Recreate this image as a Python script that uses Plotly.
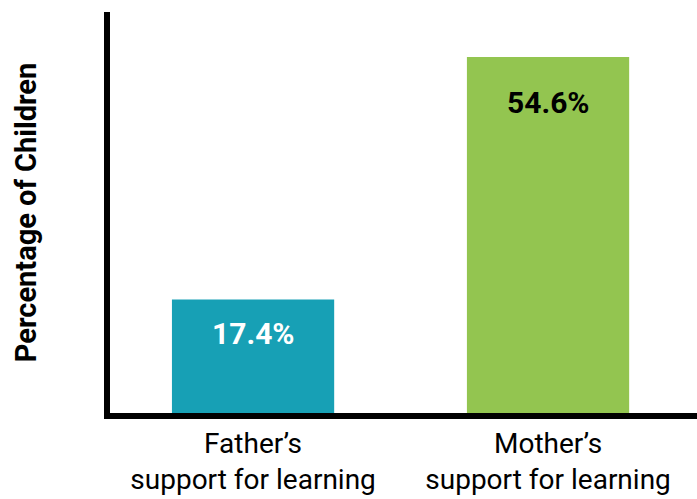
import plotly.graph_objects as go

# Share of children by parental source of learning support
categories = ["Father’s<br>support for learning", "Mother’s<br>support for learning"]
values = [17.4, 54.6]
value_labels = ["17.4%", "54.6%"]

bar_colors = ["#17a0b5", "#93c550"]
label_colors = ["white", "black"]
label_offsets = [-34, -46]  # pixels below the top of each bar

FONT = "Roboto, sans-serif"

fig = go.Figure(
    go.Bar(
        x=categories,
        y=values,
        width=0.55,
        marker=dict(color=bar_colors, line=dict(width=0)),
        hoverinfo="skip",
    )
)

for cat, val, txt, col, off in zip(categories, values, value_labels, label_colors, label_offsets):
    fig.add_annotation(
        x=cat, y=val, text=txt, showarrow=False, yshift=off,
        font=dict(family=FONT, size=30, color=col, weight="bold"),
    )

fig.update_layout(
    width=697, height=499,
    margin=dict(l=110, r=0, t=12, b=86),
    paper_bgcolor="white", plot_bgcolor="white",
    showlegend=False,
    xaxis=dict(
        range=[-0.485, 1.505],
        showline=True, linecolor="black", linewidth=6,
        showgrid=False, zeroline=False, ticks="",
        tickfont=dict(family=FONT, size=28, color="black"),
    ),
    yaxis=dict(
        range=[0, 61.5],
        showline=True, linecolor="black", linewidth=6,
        showgrid=False, zeroline=False, ticks="", showticklabels=False,
        title=dict(
            text="Percentage of Children", standoff=61,
            font=dict(family=FONT, size=29, color="black", weight="bold"),
        ),
    ),
)

fig.write_html("out.html")
